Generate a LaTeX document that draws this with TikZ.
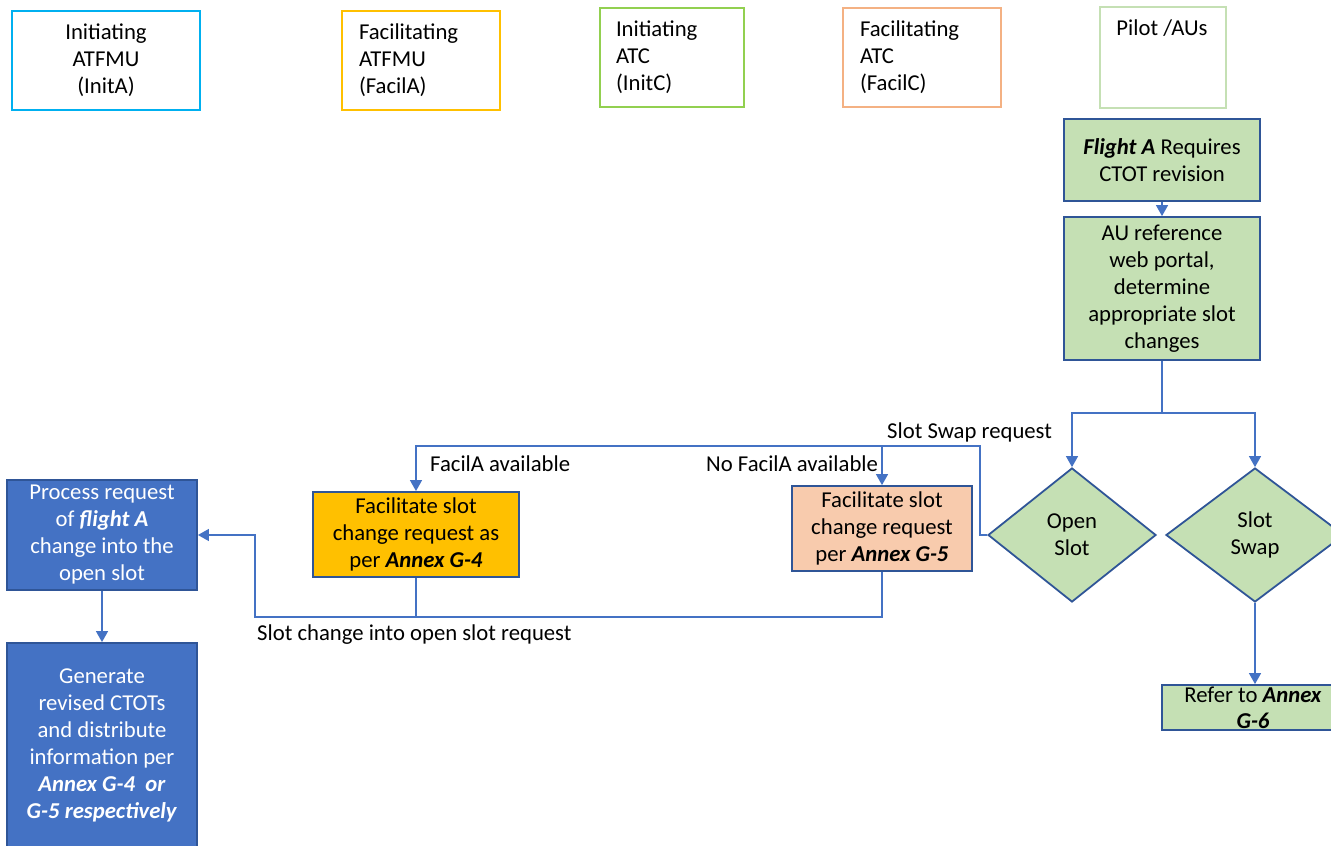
\documentclass[tikz,border=0pt]{standalone}
\usepackage{fontspec}
\setmainfont{Carlito}
\usetikzlibrary{shapes.geometric,arrows.meta}
\definecolor{cInitA}{RGB}{0,176,240}
\definecolor{cFacilA}{RGB}{255,192,0}
\definecolor{cInitC}{RGB}{146,208,80}
\definecolor{cFacilC}{RGB}{244,177,131}
\definecolor{cPilot}{RGB}{197,224,180}
\definecolor{gfill}{RGB}{197,224,180}
\definecolor{dkblue}{RGB}{47,85,151}
\definecolor{acc}{RGB}{68,114,196}
\definecolor{peach}{RGB}{248,203,173}
\definecolor{gold}{RGB}{255,192,0}
\begin{document}
\begin{tikzpicture}[x=1pt,y=-1pt,
  every node/.style={font=\fontsize{22.7}{27}\selectfont},
  hdr/.style={draw, line width=1.5pt, rectangle, inner sep=0pt},
  proc/.style={draw=dkblue, line width=1.8pt, rectangle, inner sep=0pt, align=center},
  dec/.style={diamond, draw=dkblue, line width=1.8pt, fill=gfill, aspect=1.25,
    minimum width=168pt, minimum height=134pt, inner sep=0pt, align=center},
  conn/.style={draw=acc, line width=1.3pt},
  arr/.style={conn, -{Triangle[width=12pt,length=11pt]}},
  lbl/.style={inner sep=0pt, anchor=west}]
\useasboundingbox (0,0) rectangle (1331,846);

% header boxes
\node[hdr, draw=cInitA, minimum width=188pt, minimum height=99pt, align=center] (initA) at (106,60.5) {Initiating\\ATFMU\\(InitA)};
\node[hdr, draw=cFacilA, minimum width=158pt, minimum height=99pt, align=left, text width=124pt] (facilA) at (421,60.5) {Facilitating\\ATFMU\\(FacilA)};
\node[hdr, draw=cInitC, minimum width=144pt, minimum height=99pt, align=left, text width=112pt] (initC) at (672,57.5) {Initiating\\ATC\\(InitC)};
\node[hdr, draw=cFacilC, minimum width=158pt, minimum height=99pt, align=left, text width=124pt] (facilC) at (922,57.5) {Facilitating\\ATC\\(FacilC)};
\node[hdr, draw=cPilot, minimum width=126pt, minimum height=101pt,
  label={[anchor=west, inner sep=0pt, xshift=17pt, yshift=-22pt]north west:Pilot /AUs}] (pilot) at (1163,57.5) {};

% pilot lane
\node[proc, fill=gfill, minimum width=196pt, minimum height=82pt] (flight) at (1162,160) {\textbf{\textit{Flight A}} Requires\\CTOT revision};
\node[proc, fill=gfill, minimum width=196pt, minimum height=143pt] (au) at (1162,288.5) {AU reference\\web portal,\\determine\\appropriate slot\\changes};
\node[dec] (open) at (1072,535) {Open\\Slot};
\node[dec, minimum width=178pt] (swap) at (1255,535) {Slot\\Swap};
\node[proc, fill=gfill, minimum width=182pt, minimum height=45pt, font=\fontsize{22.7}{26}\selectfont] (refer) at (1253,707.5) {Refer to \textbf{\textit{Annex}}\\\textbf{\textit{G-6}}};

% facilitating boxes
\node[proc, fill=gold, minimum width=206pt, minimum height=85pt] (g4) at (416,534.5) {Facilitate slot\\change request as\\per \textbf{\textit{Annex G-4}}};
\node[proc, fill=peach, minimum width=180pt, minimum height=85pt] (g5) at (882,528.5) {Facilitate slot\\change request\\per \textbf{\textit{Annex G-5}}};

% initiating ATFMU boxes
\node[proc, fill=acc, text=white, minimum width=190pt, minimum height=110pt] (process) at (102,535) {Process request\\of \textbf{\textit{flight A}}\\change into the\\open slot};
\node[proc, fill=acc, text=white, minimum width=190pt, minimum height=205pt] (generate) at (102,745.5) {Generate\\revised CTOTs\\and distribute\\information per\\\textbf{\textit{Annex G-4\ \ or}}\\\textbf{\textit{G-5 respectively}}};

% connectors
\draw[arr] (flight) -- (au);
\coordinate (split) at (1162,413);
\draw[conn] (au.south) -- (split);
\draw[arr] (split) -| (open.north);
\draw[arr] (split) -| (swap.north);
\draw[arr] (swap.south) -- (swap.south |- refer.north);

\coordinate (sw1) at (980,446);
\draw[arr] (open.west) -| (sw1) -| (g4.north);
\coordinate (sw2) at (g5.north |- sw1);
\draw[arr] (sw2) -- (g5.north);

\coordinate (jn) at (255,617);
\draw[conn] (g4.south) -- (g4.south |- jn);
\draw[arr] (g5.south) |- (jn) |- (process.east);
\draw[arr] (process) -- (generate);

% labels
\node[lbl] (lswap) at (887,432) {Slot Swap request};
\node[lbl] (lfa) at (430,464) {FacilA available};
\node[lbl] (lnfa) at (706,464) {No FacilA available};
\node[lbl] (lsc) at (257,635) {Slot change into open slot request};
\end{tikzpicture}
\end{document}
